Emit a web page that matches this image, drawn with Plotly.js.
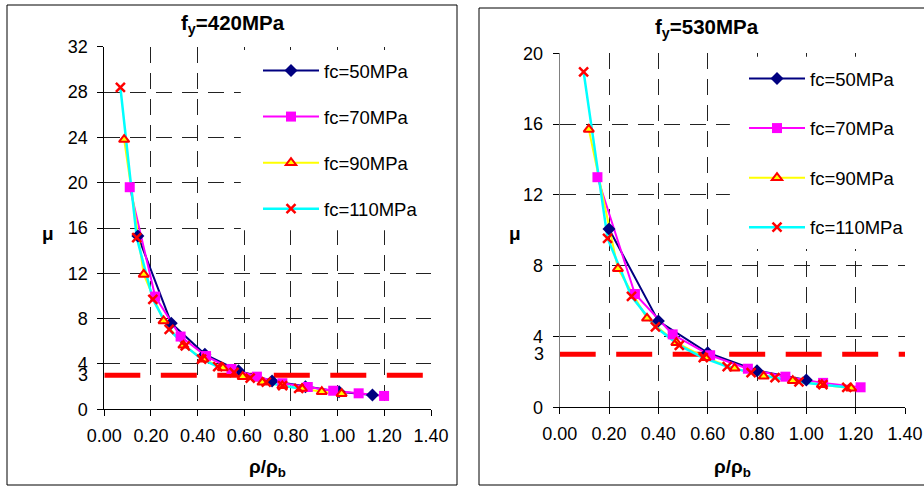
<!DOCTYPE html>
<html><head><meta charset="utf-8">
<script src="https://cdn.plot.ly/plotly-3.0.1.min.js"></script>
<style>html,body{margin:0;padding:0;background:#fff}#chart{width:924px;height:486px}</style>
</head><body><div id="chart"></div><script>
// ---- data: fy = 420 MPa (left chart) ----
const L50x = [0.144, 0.287, 0.431, 0.575, 0.719, 0.862, 1.006, 1.149];
const L50y = [15.3, 7.6, 4.85, 3.4, 2.5, 2.0, 1.55, 1.26];
const L70x = [0.109, 0.218, 0.327, 0.436, 0.545, 0.654, 0.763, 0.872, 0.981, 1.090, 1.199];
const L70y = [19.6, 9.95, 6.42, 4.7, 3.56, 2.88, 2.3, 1.97, 1.64, 1.41, 1.18];
const L90x = [0.085, 0.169, 0.254, 0.339, 0.424, 0.508, 0.593, 0.678, 0.763, 0.847, 0.932, 1.017];
const L90y = [23.8, 11.9, 7.8, 5.65, 4.42, 3.65, 2.88, 2.38, 2.07, 1.83, 1.55, 1.38];
const L110x = [0.069, 0.139, 0.208, 0.278, 0.347, 0.417, 0.486, 0.556, 0.625, 0.694, 0.764, 0.833];
const L110y = [28.4, 15.15, 9.7, 7.05, 5.6, 4.42, 3.76, 3.25, 2.75, 2.4, 2.08, 1.85];
// ---- data: fy = 530 MPa (right chart) ----
const R50x = [0.2, 0.4, 0.6, 0.8, 1.0];
const R50y = [10.07, 4.87, 3.08, 2.07, 1.54];
const R70x = [0.153, 0.305, 0.458, 0.61, 0.763, 0.915, 1.068, 1.22];
const R70y = [13.0, 6.4, 4.12, 2.94, 2.18, 1.73, 1.38, 1.13];
const R90x = [0.118, 0.236, 0.354, 0.473, 0.591, 0.709, 0.827, 0.945, 1.063, 1.182];
const R90y = [15.7, 7.83, 5.03, 3.65, 2.8, 2.2, 1.75, 1.5, 1.28, 1.07];
const R110x = [0.097, 0.194, 0.291, 0.388, 0.485, 0.582, 0.679, 0.776, 0.873, 0.970, 1.067, 1.164];
const R110y = [18.95, 9.55, 6.27, 4.55, 3.5, 2.8, 2.3, 1.96, 1.67, 1.43, 1.28, 1.13];
// threshold mu = 3
const limitX = [0, 1.4];
const limitY = [3, 3];
const seriesNames = ['fc=50MPa', 'fc=70MPa', 'fc=90MPa', 'fc=110MPa'];
const titles = ['<b>f<sub>y</sub>=420MPa</b>', '<b>f<sub>y</sub>=530MPa</b>'];
const xTitle = '<b>ρ/ρ<sub>b</sub></b>';
const yTitle = '<b>μ</b>';

const W = 924, H = 486;
const FONT = 'Arial, "Liberation Sans", sans-serif';
const px = v => v / W, py = v => 1 - v / H;

const styles = [
  {line: {color: '#000080', width: 2}, marker: {symbol: 'diamond', size: 10, color: '#000080'}},
  {line: {color: '#FF00FF', width: 2}, marker: {symbol: 'square', size: 10, color: '#FF00FF'}},
  {line: {color: '#FFFF00', width: 2}, marker: {symbol: 'triangle-up', size: 9, color: '#FFFF00', line: {color: '#FF0000', width: 2}}},
  {line: {color: '#00FFFF', width: 2.5}, marker: {symbol: 'x-thin', size: 9, color: '#FF0000', line: {color: '#FF0000', width: 2.5}}}
];

const charts = [
  {xa: 'x', ya: 'y', leg: 'legend', xs: [L50x, L70x, L90x, L110x], ys: [L50y, L70y, L90y, L110y]},
  {xa: 'x2', ya: 'y2', leg: 'legend2', xs: [R50x, R70x, R90x, R110x], ys: [R50y, R70y, R90y, R110y]}
];

const traces = [];
charts.forEach((c, ci) => {
  traces.push({x: limitX, y: limitY, xaxis: c.xa, yaxis: c.ya, mode: 'lines', showlegend: false, hoverinfo: 'skip',
    line: {color: '#FF0000', width: 5, dash: '36px,20.5px'}});
  for (let i = 0; i < 4; i++) {
    traces.push({x: c.xs[i], y: c.ys[i], xaxis: c.xa, yaxis: c.ya, mode: 'lines', showlegend: false, line: styles[i].line});
  }
  for (let i = 0; i < 4; i++) {
    traces.push({x: c.xs[i], y: c.ys[i], xaxis: c.xa, yaxis: c.ya, mode: 'markers', showlegend: false, marker: styles[i].marker, cliponaxis: false});
  }
  for (let i = 0; i < 4; i++) {
    traces.push({x: [null], y: [null], xaxis: c.xa, yaxis: c.ya, mode: 'lines+markers', name: seriesNames[i],
      legend: c.leg, legendgroup: 'g' + ci + i, line: styles[i].line, marker: styles[i].marker});
  }
});

const axBase = {
  showline: true, linecolor: '#000', linewidth: 1, ticks: 'outside', ticklen: 6, tickcolor: '#000', tickwidth: 1,
  showgrid: true, gridcolor: '#222', gridwidth: 1, griddash: '16px,10px', zeroline: false,
  tickfont: {family: FONT, size: 18, color: '#000'}, fixedrange: true
};

const ann = (x, y, text, size, extra) => Object.assign({xref: 'paper', yref: 'paper', x: x, y: y, text: text, showarrow: false,
  xanchor: 'center', yanchor: 'middle', font: {family: FONT, size: size, color: '#000'}}, extra || {});

const layout = {
  width: W, height: H, margin: {l: 0, r: 0, t: 0, b: 0}, paper_bgcolor: '#fff', plot_bgcolor: '#fff',
  font: {family: FONT, color: '#000'},
  xaxis: Object.assign({}, axBase, {domain: [px(104.3), px(431)], range: [0, 1.4], dtick: 0.2, tick0: 0, tickformat: '.2f', anchor: 'y', ticklabelstandoff: 4}),
  yaxis: Object.assign({}, axBase, {domain: [py(409.3), py(46.7)], range: [0, 32], dtick: 4, tick0: 0, anchor: 'x', ticklabelstandoff: 6}),
  xaxis2: Object.assign({}, axBase, {domain: [px(559.7), px(905)], range: [0, 1.4], dtick: 0.2, tick0: 0, tickformat: '.2f', anchor: 'y2', ticklabelstandoff: 4}),
  yaxis2: Object.assign({}, axBase, {domain: [py(407.3), py(53.3)], range: [0, 20], dtick: 4, tick0: 0, anchor: 'x2', linecolor: '#808080', ticklabelstandoff: 6}),
  legend: {x: px(258), y: py(52), xanchor: 'left', yanchor: 'top', bgcolor: 'rgba(0,0,0,0)', borderwidth: 0,
    font: {family: FONT, size: 18.5, color: '#000'}, itemwidth: 56, tracegroupgap: 19, traceorder: 'grouped'},
  legend2: {x: px(744), y: py(60), xanchor: 'left', yanchor: 'top', bgcolor: 'rgba(0,0,0,0)', borderwidth: 0,
    font: {family: FONT, size: 18.5, color: '#000'}, itemwidth: 56, tracegroupgap: 22.5, traceorder: 'grouped'},
  shapes: [
    {type: 'rect', xref: 'paper', yref: 'paper', x0: px(7), x1: px(457), y0: py(485), y1: py(5), line: {color: '#000', width: 1}, fillcolor: 'rgba(0,0,0,0)'},
    {type: 'rect', xref: 'paper', yref: 'paper', x0: px(479), x1: 1.05, y0: py(485), y1: py(8), line: {color: '#000', width: 1}, fillcolor: 'rgba(0,0,0,0)'},
    {type: 'rect', xref: 'x', yref: 'y', x0: 0.585, x1: 1.45, y0: 15.8, y1: 31.7, line: {width: 0}, fillcolor: '#fff', layer: 'between'},
    {type: 'rect', xref: 'x2', yref: 'y2', x0: 0.69, x1: 1.45, y0: 8.95, y1: 19.8, line: {width: 0}, fillcolor: '#fff', layer: 'between'}
  ],
  annotations: [
    ann(px(233), py(24), titles[0], 20.5),
    ann(px(707), py(28), titles[1], 20.5),
    ann(px(48), py(233), yTitle, 19),
    ann(px(515), py(233), yTitle, 19),
    ann(px(267), py(468), xTitle, 19),
    ann(px(732), py(468), xTitle, 19),
    ann(px(90), 3, '3', 18, {yref: 'y', xanchor: 'right'}),
    ann(px(545.7), 3, '3', 18, {yref: 'y2', xanchor: 'right'})
  ]
};

Plotly.newPlot('chart', traces, layout, {displayModeBar: false, staticPlot: true});
</script></body></html>
